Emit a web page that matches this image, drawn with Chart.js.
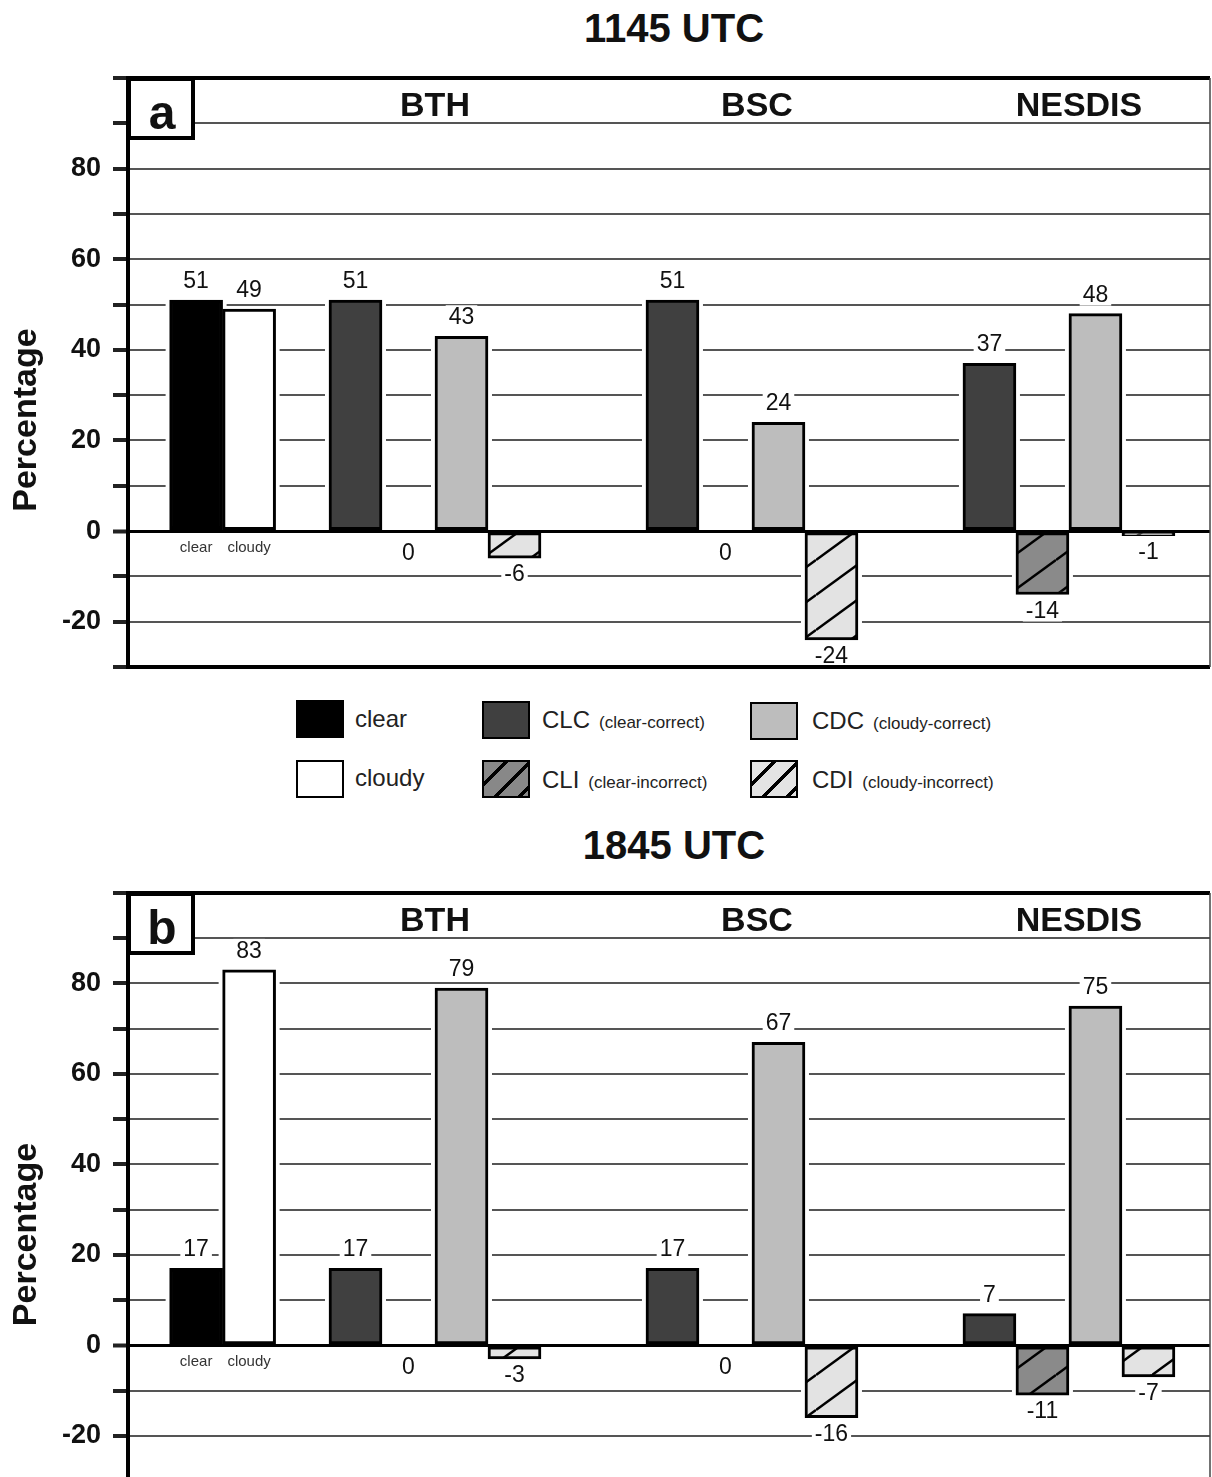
<!DOCTYPE html>
<html>
<head>
<meta charset="utf-8">
<script src="https://cdn.jsdelivr.net/npm/chart.js@4.4.0/dist/chart.umd.min.js"></script>
<style>
html, body { margin: 0; padding: 0; background: #fff; overflow: hidden; }
body { width: 1212px; height: 1477px; position: relative; font-family: 'Liberation Sans', Arial, sans-serif; color: #111; }
canvas { position: absolute; left: 0; }
#c1 { top: 0; }
#c2 { top: 815px; }
.ttl { position: absolute; left: 674px; transform: translateX(-50%); font-size: 40px; font-weight: bold; line-height: 40px; white-space: nowrap; }
.sw { position: absolute; width: 48px; height: 38px; box-sizing: border-box; border: 2px solid #000; }
.lt { position: absolute; font-size: 24px; line-height: 38px; white-space: nowrap; color: #222; }
.lt small { font-size: 17px; margin-left: 9px; }
</style>
</head>
<body>
<div class="ttl" style="top:8px">1145 UTC</div>
<canvas id="c1" width="1212" height="690"></canvas>

<!-- legend -->
<div class="sw" style="left:296px;top:700px;background:#000"></div>
<div class="lt" style="left:355px;top:700px">clear</div>
<div class="sw" style="left:296px;top:760px;background:#fff"></div>
<div class="lt" style="left:355px;top:759px">cloudy</div>
<div class="sw" style="left:482px;top:701px;background:#404040"></div>
<div class="lt" style="left:542px;top:701px">CLC<small>(clear-correct)</small></div>
<div class="sw" style="left:482px;top:760px;background:repeating-linear-gradient(135deg,#888 0 14px,#000 14px 17px)"></div>
<div class="lt" style="left:542px;top:761px">CLI<small>(clear-incorrect)</small></div>
<div class="sw" style="left:750px;top:702px;background:#bdbdbd"></div>
<div class="lt" style="left:812px;top:702px">CDC<small>(cloudy-correct)</small></div>
<div class="sw" style="left:750px;top:760px;background:repeating-linear-gradient(135deg,#e3e3e3 0 14px,#000 14px 17px)"></div>
<div class="lt" style="left:812px;top:761px">CDI<small>(cloudy-incorrect)</small></div>

<div class="ttl" style="top:825px">1845 UTC</div>
<canvas id="c2" width="1212" height="689"></canvas>

<script>
Chart.defaults.font.family = "'Liberation Sans', Arial, sans-serif";
Chart.defaults.color = '#111';

// groups along the x axis (first one is the clear/cloudy reference pair)
const groups = ['', 'BTH', 'BSC', 'NESDIS'];
const groupX = [0.33, 1, 2, 3];
const seriesNames = ['clear', 'cloudy', 'CLC', 'CLI', 'CDC', 'CDI'];
const yLabels = [-20, 0, 20, 40, 60, 80];

// 1145 UTC
const clear1145 = [51, null, null, null];
const cloudy1145 = [49, null, null, null];
const clc1145 = [null, 51, 51, 37];
const cli1145 = [null, 0, 0, -14];
const cdc1145 = [null, 43, 24, 48];
const cdi1145 = [null, -6, -24, -1];

// 1845 UTC
const clear1845 = [17, null, null, null];
const cloudy1845 = [83, null, null, null];
const clc1845 = [null, 17, 17, 7];
const cli1845 = [null, 0, 0, -11];
const cdc1845 = [null, 79, 67, 75];
const cdi1845 = [null, -3, -16, -7];

function hatch(bg) {
    const c = document.createElement('canvas');
    c.width = 48; c.height = 35;
    const g = c.getContext('2d');
    g.fillStyle = bg;
    g.fillRect(0, 0, 48, 35);
    g.strokeStyle = '#000';
    g.lineWidth = 2.5;
    [-35, 0, 35].forEach(dy => {
        g.beginPath();
        g.moveTo(0, 35 + dy);
        g.lineTo(48, dy);
        g.stroke();
    });
    return g.createPattern(c, 'repeat');
}

const fills = ['#000', '#fff', '#404040', hatch('#8a8a8a'), '#bdbdbd', hatch('#e3e3e3')];

// labels, frame, panel letter
const panelDecor = {
    id: 'panelDecor',
    beforeDatasetsDraw(chart) {
        // small white gap where gridlines meet the bars
        const ctx = chart.ctx;
        ctx.save();
        ctx.fillStyle = '#fff';
        chart.data.datasets.forEach((ds, di) => {
            chart.getDatasetMeta(di).data.forEach((bar, i) => {
                const v = ds.data[i].y;
                if (v === null || v === 0) return;
                const x0 = bar.x - bar.width / 2 - 4;
                if (v > 0) ctx.fillRect(x0, bar.y, bar.width + 8, bar.base - bar.y - 3);
                else ctx.fillRect(x0, bar.base + 3, bar.width + 8, bar.y - bar.base - 3);
            });
        });
        ctx.restore();
    },
    afterDatasetsDraw(chart, args, opts) {
        const ctx = chart.ctx;
        const area = chart.chartArea;
        const xs = chart.scales.x;
        const ys = chart.scales.y;
        ctx.save();

        // value labels
        ctx.font = "23px 'Liberation Sans', Arial, sans-serif";
        ctx.textAlign = 'center';
        ctx.textBaseline = 'alphabetic';
        chart.data.datasets.forEach((ds, di) => {
            chart.getDatasetMeta(di).data.forEach((bar, i) => {
                const v = ds.data[i].y;
                if (v === null) return;
                let by;
                if (v > 0) by = bar.y - 12;
                else if (v < 0) by = bar.y + 23;
                else by = bar.base + 29;
                const t = String(v);
                const w = ctx.measureText(t).width;
                ctx.fillStyle = '#fff';
                ctx.fillRect(bar.x - w / 2 - 3, by - 19, w + 6, 23);
                ctx.fillStyle = '#111';
                ctx.fillText(t, bar.x, by);
            });
        });

        // clear / cloudy names under the reference pair
        ctx.font = "15px 'Liberation Sans', Arial, sans-serif";
        ctx.fillStyle = '#333';
        [0, 1].forEach(di => {
            const bar = chart.getDatasetMeta(di).data[0];
            ctx.fillText(chart.data.datasets[di].label, bar.x, ys.getPixelForValue(0) + 21);
        });

        // group names across the top, nudged right a little as in the original
        ctx.font = "bold 34px 'Liberation Sans', Arial, sans-serif";
        ctx.fillStyle = '#111';
        groups.forEach((g, i) => {
            if (g) ctx.fillText(g, xs.getPixelForValue(groupX[i]) + (i - 1) * 5, area.top + 38);
        });

        // frame
        ctx.strokeStyle = '#000';
        ctx.lineWidth = 4;
        ctx.beginPath();
        ctx.moveTo(area.left - 2, area.top);
        ctx.lineTo(area.right, area.top);
        ctx.moveTo(area.left - 2, area.bottom);
        ctx.lineTo(area.right, area.bottom);
        ctx.stroke();
        ctx.lineWidth = 1.5;
        ctx.strokeStyle = '#444';
        ctx.beginPath();
        ctx.moveTo(area.right, area.top);
        ctx.lineTo(area.right, area.bottom);
        ctx.stroke();

        // panel letter box
        ctx.fillStyle = '#fff';
        ctx.fillRect(area.left, area.top, 65, 60);
        ctx.lineWidth = 4;
        ctx.strokeStyle = '#000';
        ctx.strokeRect(area.left + 1, area.top + 1, 64, 59);
        ctx.fillStyle = '#111';
        ctx.font = "bold 48px 'Liberation Sans', Arial, sans-serif";
        ctx.fillText(opts.letter, area.left + 34, area.top + 51);

        // axis title, sitting a little below the middle as in the original
        ctx.save();
        ctx.translate(27, ys.getPixelForValue(24.5));
        ctx.rotate(-Math.PI / 2);
        ctx.font = "bold 34px 'Liberation Sans', Arial, sans-serif";
        ctx.textBaseline = 'middle';
        ctx.fillText('Percentage', 0, 0);
        ctx.restore();

        ctx.restore();
    }
};

function makeChart(id, letter, series) {
    const datasets = series.map((vals, k) => ({
        label: seriesNames[k],
        data: vals.map((v, i) => ({ x: groupX[i], y: v })),
        backgroundColor: fills[k],
        borderColor: '#000',
        borderWidth: 3,
        borderSkipped: false,
        barThickness: 53,
        skipNull: true
    }));

    return new Chart(document.getElementById(id), {
        type: 'bar',
        data: { datasets },
        options: {
            responsive: false,
            animation: false,
            layout: { padding: { top: 78, right: 2, bottom: 23, left: 0 } },
            plugins: {
                legend: { display: false },
                tooltip: { enabled: false },
                panelDecor: { letter }
            },
            scales: {
                x: { type: 'linear', min: 0.0315, max: 3.445, display: false, offset: false },
                y: {
                    min: -30,
                    max: 100,
                    ticks: {
                        stepSize: 10,
                        autoSkip: false,
                        padding: 12,
                        font: { size: 27, weight: 'bold' },
                        color: '#111',
                        callback: v => yLabels.includes(v) ? String(v) : ''
                    },
                    grid: {
                        color: c => c.tick && c.tick.value === 0 ? '#000' : '#555',
                        lineWidth: c => c.tick && c.tick.value === 0 ? 3 : 2,
                        tickLength: 15,
                        tickColor: '#222',
                        tickWidth: 4
                    },
                    border: { display: true, color: '#000', width: 4 },
                    afterFit: s => {
                        s.width = 128;
                        s.paddingTop = 0;
                        s.paddingBottom = 0;
                    }
                }
            }
        },
        plugins: [panelDecor]
    });
}

makeChart('c1', 'a', [clear1145, cloudy1145, clc1145, cli1145, cdc1145, cdi1145]);
makeChart('c2', 'b', [clear1845, cloudy1845, clc1845, cli1845, cdc1845, cdi1845]);
</script>
</body>
</html>
